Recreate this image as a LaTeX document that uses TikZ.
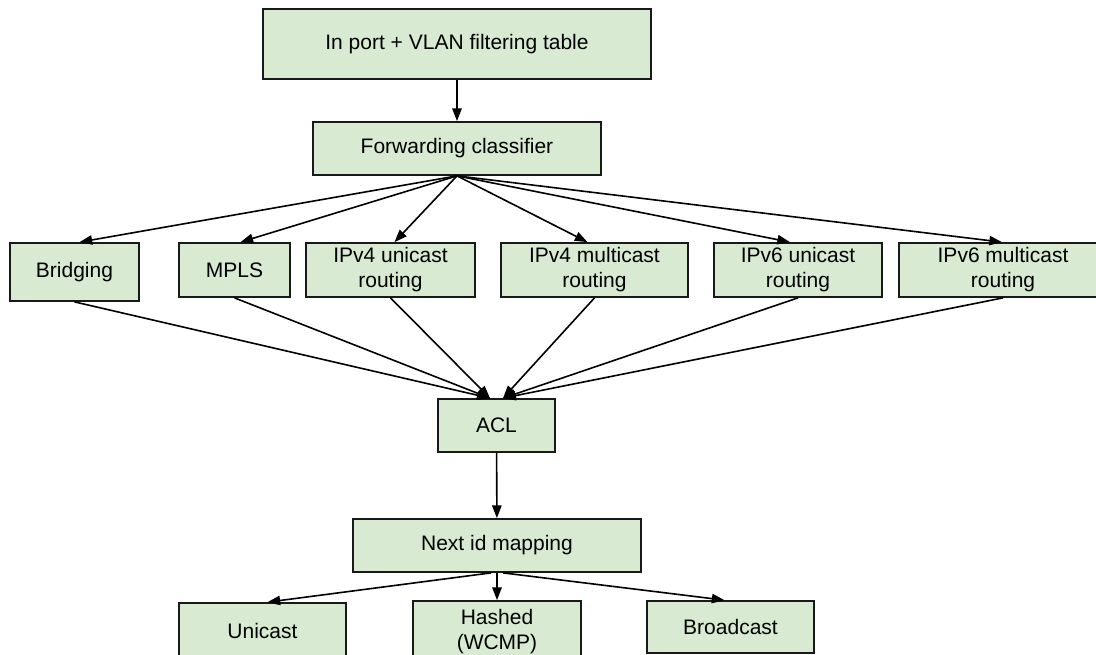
\documentclass[tikz,border=0pt]{standalone}
\usepackage{fontspec}
\setmainfont{Liberation Sans}
\usetikzlibrary{arrows.meta,calc}
\definecolor{boxgreen}{HTML}{D9EAD3}
\begin{document}
\begin{tikzpicture}[x=0.75pt,y=-0.75pt,
  box/.style={draw=black!90, line width=1.3pt, fill=boxgreen, align=center,
    inner sep=0pt, font=\fontsize{15.75}{18.75}\selectfont},
  conn/.style={line width=1.2pt, -{Triangle[length=9.5pt,width=7pt]}}]
\useasboundingbox (0,0) rectangle (1096,654);

% pipeline stages
\node[box, minimum width=291pt, minimum height=52.5pt] (inport) at (457,44) {In port + VLAN filtering table};
\node[box, minimum width=216pt, minimum height=39.75pt] (fwd) at (457,148.5) {Forwarding classifier};

\node[box, minimum width=96.75pt, minimum height=43.5pt] (bridging) at (74.5,272) {Bridging};
\node[box, minimum width=83.25pt, minimum height=40.5pt] (mpls) at (234.5,270) {MPLS};
\node[box, minimum width=126.75pt, minimum height=40.5pt] (v4u) at (390.5,270) {IPv4 unicast\\routing};
\node[box, minimum width=140.25pt, minimum height=40.5pt] (v4m) at (594.5,270) {IPv4 multicast\\routing};
\node[box, minimum width=126pt, minimum height=40.5pt] (v6u) at (798,270) {IPv6 unicast\\routing};
\node[box, minimum width=156pt, minimum height=40.5pt] (v6m) at (1003,270) {IPv6 multicast\\routing};

\node[box, minimum width=87.75pt, minimum height=39.75pt] (acl) at (496.5,425.5) {ACL};
\node[box, minimum width=216pt, minimum height=39.75pt] (nextid) at (497,545.5) {Next id mapping};

\node[box, minimum width=125.25pt, minimum height=42pt] (unicast) at (262.5,631) {Unicast};
\node[box, minimum width=126pt, minimum height=46.5pt] (hashed) at (497,632) {Hashed\\(WCMP)};
\node[box, minimum width=125.25pt, minimum height=39pt] (broadcast) at (730.5,627) {Broadcast};

% connectors
\draw[conn] (inport) -- (fwd);

\draw[conn] (fwd.south) -- ($(bridging.north)+(5,0)$);
\draw[conn] (fwd.south) -- ($(mpls.north)+(6,0)$);
\draw[conn] (fwd.south) -- ($(v4u.north)+(4,0)$);
\draw[conn] (fwd.south) -- ($(v4m.north)+(-7,0)$);
\draw[conn] (fwd.south) -- ($(v6u.north)+(-8,0)$);
\draw[conn] (fwd.south) -- ($(v6m.north)+(-1,0)$);

\draw[conn] (bridging.south) -- ($(acl.north)+(-6.5,0)$);
\draw[conn] (mpls.south) -- ($(acl.north)+(-6.5,0)$);
\draw[conn] (v4u.south) -- ($(acl.north)+(-6.5,0)$);
\draw[conn] (v4m.south) -- ($(acl.north)+(6.5,0)$);
\draw[conn] (v6u.south) -- ($(acl.north)+(6.5,0)$);
\draw[conn] (v6m.south) -- ($(acl.north)+(6.5,0)$);

\draw[conn] (acl) -- (nextid);

\draw[conn] ($(nextid.south)+(-6,0)$) -- ($(unicast.north)+(5,0)$);
\draw[conn] (nextid.south) -- (hashed.north);
\draw[conn] ($(nextid.south)+(6,0)$) -- ($(broadcast.north)+(-6,0)$);
\end{tikzpicture}
\end{document}
